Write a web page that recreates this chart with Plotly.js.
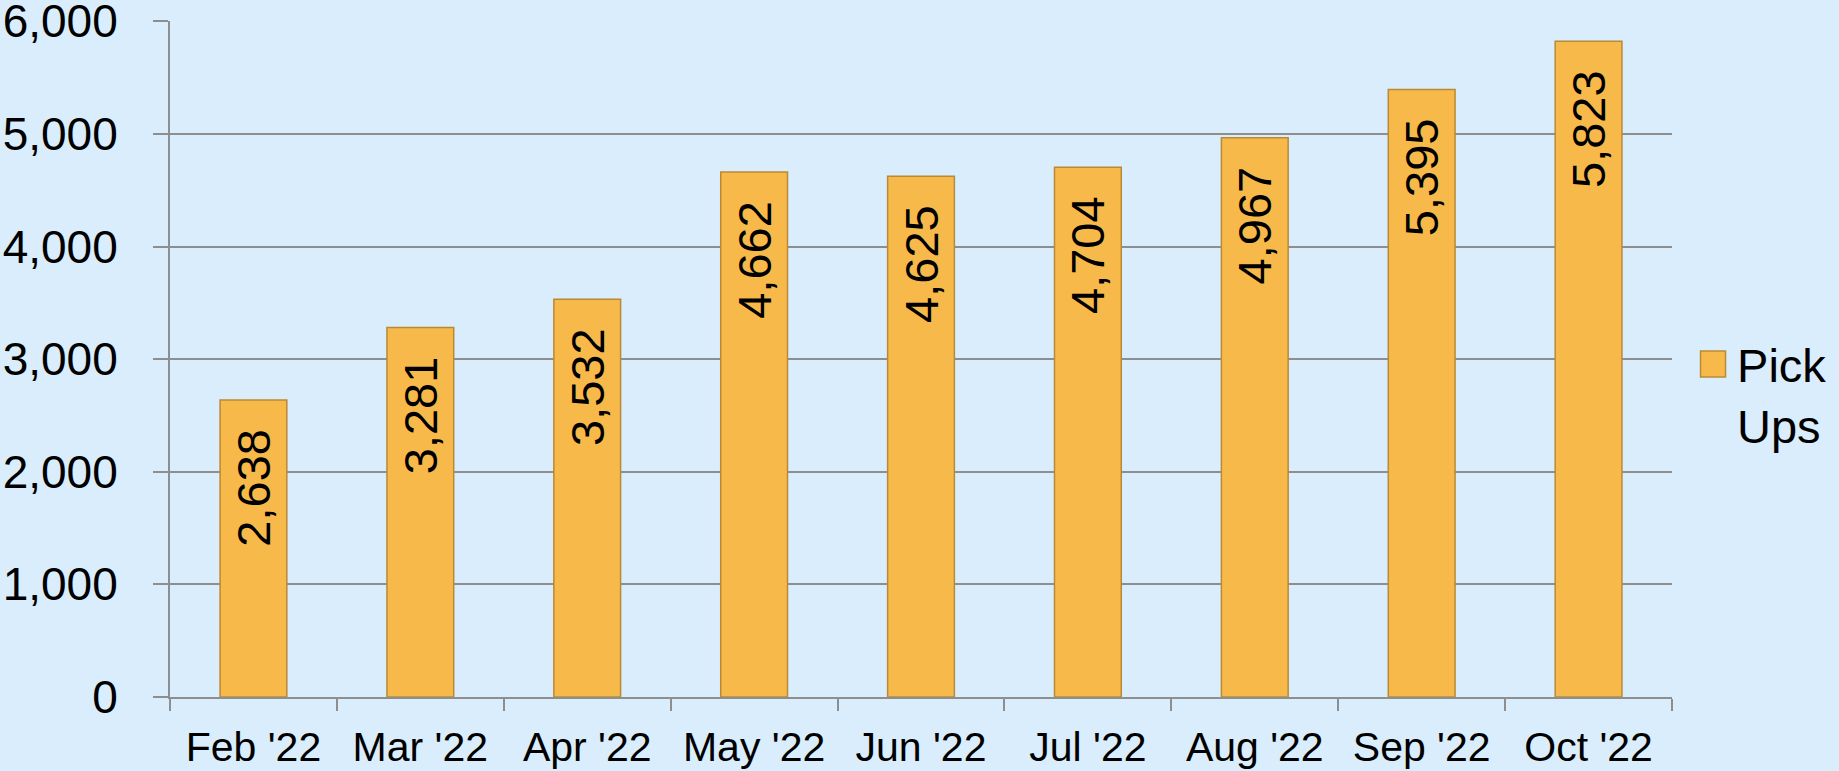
<!DOCTYPE html>
<html>
<head>
<meta charset="utf-8">
<script src="https://cdn.plot.ly/plotly-3.0.1.min.js"></script>
<style>
  html, body { margin: 0; padding: 0; background: #D9EDFC; }
  #chart { width: 1839px; height: 771px; }
</style>
</head>
<body>
<div id="chart"></div>
<script>
const months = ["Feb '22", "Mar '22", "Apr '22", "May '22", "Jun '22", "Jul '22", "Aug '22", "Sep '22", "Oct '22"];
const pickUps = [2638, 3281, 3532, 4662, 4625, 4704, 4967, 5395, 5823];
const seriesName = "Pick<br>Ups";
const yTicks = [0, 1000, 2000, 3000, 4000, 5000, 6000];
const pageNumber = "5";

const FONT = "Liberation Sans, Arial, sans-serif";
const GRID = "#8E8E8E";
const PAD = "\u00a0\u00a0";

const trace = {
  type: "bar",
  x: months,
  y: pickUps,
  name: seriesName,
  marker: { color: "#F8B94B", line: { color: "#B98A34", width: 1.5 } },
  text: pickUps.map(v => v.toLocaleString("en-US") + PAD),
  textposition: "inside",
  insidetextanchor: "end",
  textangle: -90,
  constraintext: "none",
  textfont: { family: FONT, size: 47, color: "#000000" },
  hoverinfo: "x+y",
  showlegend: true
};

const layout = {
  width: 1839,
  height: 771,
  paper_bgcolor: "#D9EDFC",
  plot_bgcolor: "#D9EDFC",
  margin: { l: 170, r: 167, t: 21, b: 74, pad: 0, autoexpand: false },
  bargap: 0.6,
  font: { family: FONT, color: "#000000" },
  xaxis: {
    type: "category",
    showline: true,
    linecolor: GRID,
    linewidth: 2,
    ticks: "outside",
    tickson: "boundaries",
    ticklen: 12,
    tickwidth: 2,
    tickcolor: GRID,
    showgrid: false,
    tickfont: { family: FONT, size: 41, color: "#000000" },
    ticklabelstandoff: 13
  },
  yaxis: {
    range: [0, 6003],
    tickvals: yTicks,
    tickformat: ",d",
    showline: true,
    linecolor: GRID,
    linewidth: 2,
    ticks: "outside",
    ticklen: 15,
    tickwidth: 2,
    tickcolor: GRID,
    showgrid: true,
    gridcolor: GRID,
    gridwidth: 2,
    zeroline: false,
    ticklabeloverflow: "allow",
    tickfont: { family: FONT, size: 46, color: "#000000" },
    ticklabelstandoff: 26
  },
  legend: {
    xref: "container",
    x: 0.9228,
    xanchor: "left",
    y: 0.447,
    yanchor: "middle",
    valign: "top",
    bgcolor: "rgba(0,0,0,0)",
    font: { family: FONT, size: 47, color: "#000000" }
  },
  annotations: [{
    text: pageNumber,
    xref: "paper", yref: "paper",
    x: (1822 - 170) / 1502, y: -0.096,
    xanchor: "left", yanchor: "top",
    showarrow: false,
    font: { family: FONT, size: 40, color: "#000000" }
  }]
};

Plotly.newPlot("chart", [trace], layout, { displayModeBar: false, staticPlot: true }).then(gd => {
  gd.querySelectorAll(".legendpoints path").forEach(p => {
    p.setAttribute("d", "M8.5,13H-16.5V-13H8.5Z");
  });
});
</script>
</body>
</html>
